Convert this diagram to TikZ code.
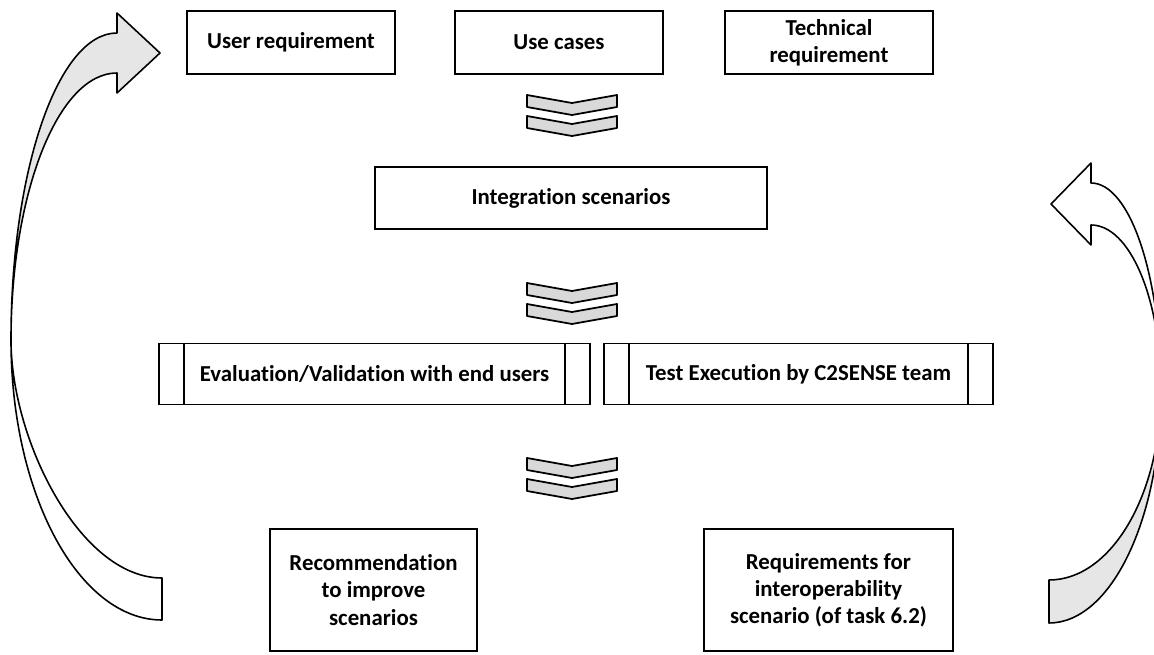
\documentclass[tikz,border=0pt]{standalone}
\usepackage{fontspec}
\setmainfont{Carlito}[Ligatures=NoCommon]
\definecolor{chevgray}{HTML}{D9D9D9}
\definecolor{arrowgray}{HTML}{E6E6E6}
\tikzset{
  stepbox/.style={draw, line width=1pt, align=center, inner sep=0pt,
    font=\bfseries\fontsize{13}{15.5}\selectfont},
  procbox/.style={stepbox, minimum height=1.22cm},
  ribbon/.style={draw, line width=0.9pt, line join=round}
}
\begin{document}
\begin{tikzpicture}[x=0.02cm, y=-0.02cm]
\useasboundingbox (0,0) rectangle (1154,655);
\clip (0,0) rectangle (1154,655);
\node (userreq) at (291,42.5) [stepbox, minimum width=4.16cm, minimum height=1.26cm] {User requirement};
\node (usecases) at (559,42.5) [stepbox, minimum width=4.16cm, minimum height=1.26cm] {Use cases};
\node (techreq) at (829,42.5) [stepbox, minimum width=4.16cm, minimum height=1.26cm] {Technical\\requirement};
\node (integ) at (571,198) [stepbox, minimum width=7.84cm, minimum height=1.24cm] {Integration scenarios};
\node (evalv) at (374.5,374) [procbox, minimum width=8.62cm] {Evaluation/Validation with end users};
\node (testexec) at (798.5,374) [procbox, minimum width=7.78cm] {Test Execution by C2SENSE team};
\node (recomm) at (373.5,590) [stepbox, minimum width=4.14cm, minimum height=2.44cm] {Recommendation\\to improve\\scenarios};
\node (reqint) at (828.5,590) [stepbox, minimum width=4.98cm, minimum height=2.44cm] {Requirements for\\interoperability\\scenario (of task 6.2)};
\foreach \b in {evalv,testexec} {
  \draw [line width=1pt] ([xshift=0.51cm]\b.north west) -- ([xshift=0.51cm]\b.south west);
  \draw [line width=1pt] ([xshift=-0.51cm]\b.north east) -- ([xshift=-0.51cm]\b.south east);
}
\foreach \cy in {95,283,458}
  \foreach \k in {0,21}
    \draw [line width=1pt, line join=round, fill=chevgray, shift={(572,\cy+\k)}]
      (-45,0) -- (0,8) -- (45,0) -- (45,12) -- (0,20) -- (-45,12) -- cycle;
\draw [ribbon, fill=white] (11,340) .. controls (11,495) and (79,620) .. (162,620) -- (162,578)
  .. controls (80,578) and (11,440) .. (11,340) -- cycle;
\draw [ribbon, fill=arrowgray] (11,340) .. controls (11,170) and (58,33) .. (117,33) -- (117,13)
  -- (160,53) -- (117,93) -- (117,73) .. controls (58,73) and (11,193) .. (11,340) -- cycle;
\draw [ribbon, fill=arrowgray] (1161,390) .. controls (1161,519) and (1111,623) .. (1049,623) -- (1049,580)
  .. controls (1111,580) and (1161,495) .. (1161,390) -- cycle;
\draw [ribbon, fill=white] (1161,390) .. controls (1161,276) and (1130,183) .. (1091,183) -- (1091,163)
  -- (1051,204) -- (1091,245) -- (1091,225) .. controls (1130,225) and (1161,299) .. (1161,390) -- cycle;
\end{tikzpicture}
\end{document}
